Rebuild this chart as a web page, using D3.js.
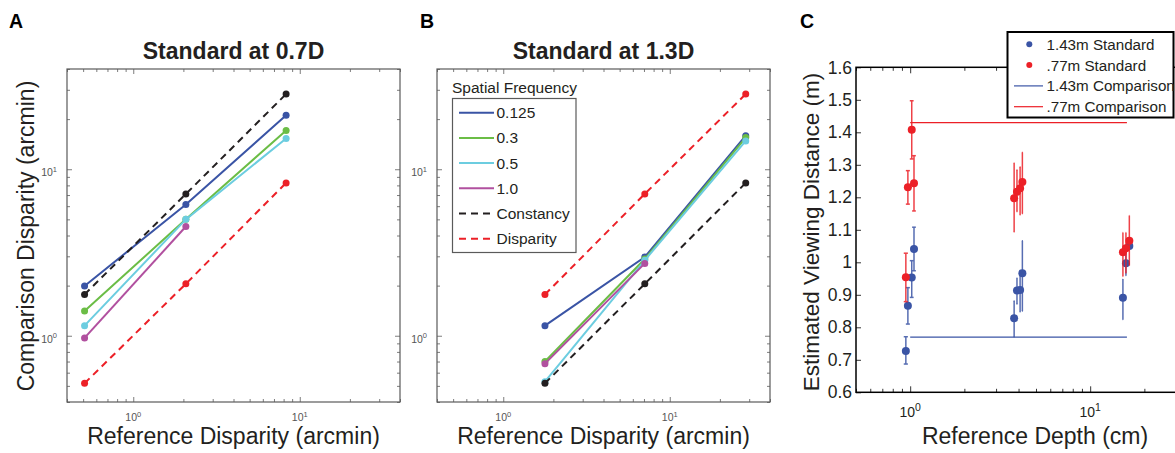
<!DOCTYPE html>
<html>
<head>
<meta charset="utf-8">
<script src="https://cdn.jsdelivr.net/npm/d3@7"></script>
<style>
  body { margin: 0; background: #fff; }
  svg { display: block; }
  text { font-family: "Liberation Sans", Arial, Helvetica, sans-serif; }
</style>
</head>
<body>
<svg id="fig" width="1175" height="453"></svg>
<script>
// ---------- data ----------
// Panel A: standard at 0.7D
const refA          = [0.51, 2.07, 8.28];
const sf0125A       = [1.99, 6.14, 21.1];
const sf03A         = [1.41, 5.0, 17.1];
const sf05A         = [1.15, 5.0, 15.3];
const sf10A         = [0.97, 4.53];
const constancyA    = [1.77, 7.1, 28.3];
const disparityA    = [0.518, 2.05, 8.28];

// Panel B: standard at 1.3D
const refB          = [1.78, 7.08, 28.6];
const sf0125B       = [1.15, 2.97, 15.9];
const sf03B         = [0.70, 2.89, 15.5];
const sf05B         = [0.53, 2.84, 14.8];
const sf10B         = [0.68, 2.72];
const constancyB    = [0.518, 2.05, 8.28];
const disparityB    = [1.77, 7.11, 28.3];

const seriesNames   = ["0.125", "0.3", "0.5", "1.0", "Constancy", "Disparity"];

// Panel C: estimated viewing distance (m) vs reference depth (cm)
const depthC        = [0.946, 0.971, 1.02, 1.05, 3.78, 3.92, 4.08, 4.2, 15.2, 15.8, 16.5];
const farMean       = [0.727, 0.866, 0.953, 1.041, 0.828, 0.913, 0.915, 0.966, 0.891, 0.997, 1.050];
const farLo         = [0.687, 0.810, 0.892, 0.974, 0.771, 0.872, 0.848, 0.850, 0.823, 0.959, 1.040];
const farHi         = [0.771, 0.922, 1.005, 1.108, 0.881, 0.951, 0.975, 1.066, 0.949, 1.030, 1.062];
const nearMean      = [0.954, 1.231, 1.408, 1.243, 1.197, 1.217, 1.228, 1.247, 1.031, 1.043, 1.066];
const nearLo        = [0.879, 1.179, 1.318, 1.158, 1.094, 1.156, 1.146, 1.150, 0.956, 0.966, 0.990];
const nearHi        = [1.028, 1.282, 1.497, 1.328, 1.305, 1.284, 1.293, 1.338, 1.092, 1.092, 1.144];
const compDepth     = [1, 16];
const farComparison = 0.77;
const nearComparison = 1.43;
const legendC       = ["1.43m Standard", ".77m Standard", "1.43m Comparison", ".77m Comparison"];

// ---------- styling ----------
const C = {
  blue: "#3a54a5", green: "#6bbd46", cyan: "#6ccde0", magenta: "#b1509f",
  black: "#231f20", red: "#ec2027", axis: "#5a5a5a"
};
const svg = d3.select("#fig");

function isDecade(v) {
  const l = Math.log10(v);
  return Math.abs(l - Math.round(l)) < 1e-9;
}

// superscripted power-of-ten label
function powLabel(sel, v, size, supSize) {
  sel.append("tspan").text("10").attr("font-size", size);
  sel.append("tspan").text(String(Math.round(Math.log10(v))))
     .attr("font-size", supSize).attr("dy", -size * 0.42);
}

// log-log frame with inward ticks on all four sides
function logFrame(g, x, y, w, h) {
  const xt = x.ticks(), yt = y.ticks();
  const xMaj = xt.filter(isDecade), xMin = xt.filter(v => !isDecade(v));
  const yMaj = yt.filter(isDecade), yMin = yt.filter(v => !isDecade(v));
  const sides = [
    [d3.axisBottom(x), `translate(0,${h})`, xMaj, xMin],
    [d3.axisTop(x), `translate(0,0)`, xMaj, xMin],
    [d3.axisLeft(y), `translate(0,0)`, yMaj, yMin],
    [d3.axisRight(y), `translate(${w},0)`, yMaj, yMin]
  ];
  sides.forEach(([ax, tr, maj, min]) => {
    [[maj, 5], [min, 3]].forEach(([vals, len]) => {
      const a = g.append("g").attr("transform", tr)
        .call(ax.tickValues(vals).tickSize(-len).tickFormat(""));
      a.select(".domain").remove();
      a.selectAll("line").attr("stroke", C.axis).attr("stroke-width", 0.8);
    });
  });
  g.append("rect").attr("width", w).attr("height", h)
    .attr("fill", "none").attr("stroke", C.axis).attr("stroke-width", 1.2);
  xMaj.forEach(v => {
    g.append("text").attr("x", x(v)).attr("y", h + 19)
      .attr("text-anchor", "middle").attr("fill", "#555")
      .call(s => powLabel(s, v, 10.5, 7.5));
  });
  yMaj.forEach(v => {
    g.append("text").attr("x", -10).attr("y", y(v) + 7)
      .attr("text-anchor", "end").attr("fill", "#555")
      .call(s => powLabel(s, v, 10.5, 7.5));
  });
}

function disparityPanel(opt) {
  const w = 333, h = 333;
  const g = svg.append("g").attr("transform", `translate(${opt.left},69)`);
  const x = d3.scaleLog().domain([0.4, 40]).range([0, w]);
  const y = d3.scaleLog().domain([0.4, 40]).range([h, 0]);
  logFrame(g, x, y, w, h);

  const line = d3.line().x(d => x(d[0])).y(d => y(d[1]));
  opt.series.forEach(s => {
    const pts = s.vals.map((v, i) => [opt.ref[i], v]);
    g.append("path").attr("d", line(pts)).attr("fill", "none")
      .attr("stroke", s.color).attr("stroke-width", 2)
      .attr("stroke-dasharray", s.dash ? "7,5" : null);
    g.selectAll(null).data(pts).enter().append("circle")
      .attr("cx", d => x(d[0])).attr("cy", d => y(d[1])).attr("r", 3.5)
      .attr("fill", s.color);
  });

  svg.append("text").attr("x", opt.left + w / 2).attr("y", 59)
    .attr("text-anchor", "middle").attr("font-size", 23).attr("font-weight", "bold")
    .attr("fill", "#231f20").text(opt.title);
  svg.append("text").attr("x", opt.left + w / 2).attr("y", 444)
    .attr("text-anchor", "middle").attr("font-size", 23).attr("fill", "#231f20")
    .text("Reference Disparity (arcmin)");
  svg.append("text").attr("x", opt.letterX).attr("y", 28)
    .attr("font-size", 19.5).attr("font-weight", "bold").attr("fill", "#000")
    .text(opt.letter);
  return g;
}

const colors = [C.blue, C.green, C.cyan, C.magenta, C.black, C.red];
const dashed = [false, false, false, false, true, true];
const mk = arr => arr.map((vals, i) => ({ name: seriesNames[i], vals, color: colors[i], dash: dashed[i] }));

disparityPanel({
  left: 67, letter: "A", letterX: 9, title: "Standard at 0.7D", ref: refA,
  series: mk([sf0125A, sf03A, sf05A, sf10A, constancyA, disparityA])
});
svg.append("text")
  .attr("transform", "translate(34,236) rotate(-90)")
  .attr("text-anchor", "middle").attr("font-size", 23).attr("fill", "#231f20")
  .text("Comparison Disparity (arcmin)");

const gB = disparityPanel({
  left: 437, letter: "B", letterX: 420, title: "Standard at 1.3D", ref: refB,
  series: mk([sf0125B, sf03B, sf05B, sf10B, constancyB, disparityB])
});

// legend for spatial frequency
{
  const lx = 452.5 - 437, ly = 98.5 - 69;
  gB.append("text").attr("x", lx - 0.5).attr("y", ly - 6)
    .attr("font-size", 15.5).attr("fill", "#231f20").text("Spatial Frequency");
  gB.append("rect").attr("x", lx).attr("y", ly).attr("width", 123.5).attr("height", 154)
    .attr("fill", "#fff").attr("stroke", C.axis).attr("stroke-width", 1.2);
  seriesNames.forEach((n, i) => {
    const cy = ly + 14.2 + i * 25.2;
    gB.append("line").attr("x1", lx + 6.5).attr("x2", lx + 41.5).attr("y1", cy).attr("y2", cy)
      .attr("stroke", colors[i]).attr("stroke-width", 2)
      .attr("stroke-dasharray", dashed[i] ? "7,5" : null);
    gB.append("text").attr("x", lx + 44).attr("y", cy + 5.5)
      .attr("font-size", 15.5).attr("fill", "#231f20").text(n);
  });
}

// ---------- Panel C ----------
{
  const left = 856, top = 67.3, h = 325;
  const x = d3.scaleLog().domain([0.5, 50]).range([0, 360]);
  const y = d3.scaleLinear().domain([0.6, 1.6]).range([h, 0]);
  const g = svg.append("g").attr("transform", `translate(${left},${top})`);
  const w = x.range()[1];

  const xt = x.ticks();
  const xMaj = xt.filter(isDecade), xMin = xt.filter(v => !isDecade(v));
  [[d3.axisBottom(x), `translate(0,${h})`], [d3.axisTop(x), "translate(0,0)"]].forEach(([ax, tr]) => {
    [[xMaj, 6], [xMin, 3.5]].forEach(([vals, len]) => {
      const a = g.append("g").attr("transform", tr)
        .call(ax.tickValues(vals).tickSize(-len).tickFormat(""));
      a.select(".domain").remove();
      a.selectAll("line").attr("stroke", "#000").attr("stroke-width", 0.8);
    });
  });
  const yTicks = d3.range(6, 17).map(v => v / 10);
  const ya = g.append("g").call(d3.axisLeft(y).tickValues(yTicks).tickSize(-5).tickFormat(""));
  ya.select(".domain").remove();
  ya.selectAll("line").attr("stroke", "#000").attr("stroke-width", 0.8);

  g.append("rect").attr("width", w).attr("height", h)
    .attr("fill", "none").attr("stroke", "#000").attr("stroke-width", 1.5);

  yTicks.forEach(v => {
    g.append("text").attr("x", -4).attr("y", y(v) + 6.2)
      .attr("text-anchor", "end").attr("font-size", 17.5).attr("fill", "#231f20")
      .text(String(+v.toFixed(1)));
  });
  xMaj.forEach(v => {
    g.append("text").attr("x", x(v)).attr("y", h + 25)
      .attr("text-anchor", "middle").attr("fill", "#231f20")
      .call(s => powLabel(s, v, 14, 10.5));
  });

  // error bars and means
  const groups = [
    { mean: farMean, lo: farLo, hi: farHi, color: C.blue },
    { mean: nearMean, lo: nearLo, hi: nearHi, color: C.red }
  ];
  groups.forEach(s => {
    depthC.forEach((d, i) => {
      const eb = g.append("g").attr("stroke", s.color).attr("stroke-width", 1.5).attr("opacity", 0.85);
      eb.append("line").attr("x1", x(d)).attr("x2", x(d)).attr("y1", y(s.lo[i])).attr("y2", y(s.hi[i]));
      [s.lo[i], s.hi[i]].forEach(v => {
        eb.append("line").attr("x1", x(d - 0.025)).attr("x2", x(d + 0.025))
          .attr("y1", y(v)).attr("y2", y(v));
      });
    });
    g.selectAll(null).data(depthC).enter().append("circle")
      .attr("cx", d => x(d)).attr("cy", (d, i) => y(s.mean[i])).attr("r", 4)
      .attr("fill", s.color);
  });
  [[farComparison, C.blue], [nearComparison, C.red]].forEach(([v, col]) => {
    g.append("line").attr("x1", x(compDepth[0])).attr("x2", x(compDepth[1]))
      .attr("y1", y(v)).attr("y2", y(v)).attr("stroke", col).attr("stroke-width", 1.2);
  });

  // legend
  const L = svg.append("g");
  L.append("rect").attr("x", 1007.5).attr("y", 32).attr("width", 166).attr("height", 85.5)
    .attr("fill", "#fff").attr("stroke", "#000").attr("stroke-width", 2);
  legendC.forEach((n, i) => {
    const cy = 44.3 + i * 20.8;
    const col = i % 2 === 0 ? C.blue : C.red;
    if (i < 2) {
      L.append("circle").attr("cx", 1029.3).attr("cy", cy).attr("r", 3).attr("fill", col);
    } else {
      L.append("line").attr("x1", 1014).attr("x2", 1043).attr("y1", cy).attr("y2", cy)
        .attr("stroke", col).attr("stroke-width", 1.2);
    }
    L.append("text").attr("x", 1046.5).attr("y", cy + 5.5)
      .attr("font-size", 15.2).attr("fill", "#231f20").text(n);
  });

  svg.append("text")
    .attr("transform", "translate(819,232) rotate(-90)")
    .attr("text-anchor", "middle").attr("font-size", 22.5).attr("fill", "#231f20")
    .text("Estimated Viewing Distance (m)");
  svg.append("text").attr("x", 1035).attr("y", 444)
    .attr("text-anchor", "middle").attr("font-size", 23).attr("fill", "#231f20")
    .text("Reference Depth (cm)");
  svg.append("text").attr("x", 800).attr("y", 28)
    .attr("font-size", 19.5).attr("font-weight", "bold").attr("fill", "#000").text("C");
}
</script>
</body>
</html>
